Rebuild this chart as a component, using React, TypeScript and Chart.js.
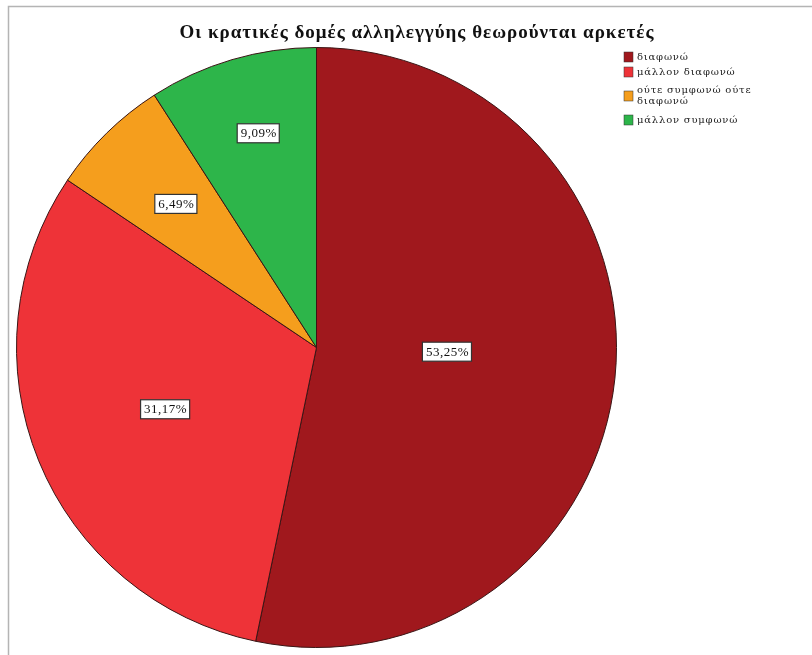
import React, { useEffect, useRef } from "react";
import { Chart, registerables } from "chart.js";

Chart.register(...registerables);

const title = "Οι κρατικές δομές αλληλεγγύης θεωρούνται αρκετές";
const categories = ["διαφωνώ", "μάλλον διαφωνώ", "ούτε συμφωνώ ούτε διαφωνώ", "μάλλον συμφωνώ"];
const legendLines = [["διαφωνώ"], ["μάλλον διαφωνώ"], ["ούτε συμφωνώ ούτε", "διαφωνώ"], ["μάλλον συμφωνώ"]];
const percentages = [53.25, 31.17, 6.49, 9.09];
const colors = ["#a0181d", "#ee3338", "#f59e1d", "#2db54a"];
const labelRadiusFrac = [0.435, 0.545, 0.67, 0.74];
const labelAngleShift = [-0.07, 0, 0, 0.02];

const fmt = (v: number) => v.toFixed(2).replace(".", ",") + "%";

const decorPlugin = {
  id: "decor",
  beforeDraw(chart: any) {
    const ctx = chart.ctx;
    ctx.save();
    ctx.fillStyle = "#ffffff";
    ctx.fillRect(0, 0, chart.width, chart.height);
    ctx.strokeStyle = "#b4b4b4";
    ctx.lineWidth = 1.5;
    ctx.beginPath();
    ctx.moveTo(8.5, chart.height);
    ctx.lineTo(8.5, 6.5);
    ctx.lineTo(chart.width, 6.5);
    ctx.stroke();
    ctx.restore();
  },
  afterDraw(chart: any) {
    const ctx = chart.ctx;
    ctx.save();
    // title
    ctx.fillStyle = "#111";
    ctx.font = "bold 19px 'Liberation Serif', serif";
    (ctx as any).letterSpacing = "1px";
    ctx.textAlign = "center";
    ctx.textBaseline = "middle";
    ctx.fillText(title, 417, 33);
    // legend
    const rowY = [57, 72, 96, 120];
    ctx.font = "10px 'DejaVu Serif', serif";
    (ctx as any).letterSpacing = "0.8px";
    ctx.textAlign = "left";
    legendLines.forEach((lines, i) => {
      const y = rowY[i];
      ctx.fillStyle = colors[i];
      ctx.fillRect(624, y - 5, 9, 10);
      ctx.strokeStyle = "#333";
      ctx.lineWidth = 0.5;
      ctx.strokeRect(624, y - 5, 9, 10);
      ctx.fillStyle = "#222";
      if (lines.length === 1) {
        ctx.fillText(lines[0], 637, y);
      } else {
        ctx.fillText(lines[0], 637, y - 5.5);
        ctx.fillText(lines[1], 637, y + 5.5);
      }
    });
    // slice labels
    const meta = chart.getDatasetMeta(0);
    ctx.font = "13px 'Liberation Serif', serif";
    (ctx as any).letterSpacing = "0.5px";
    ctx.textAlign = "center";
    meta.data.forEach((arc: any, i: number) => {
      const p = arc.getProps(["x", "y", "startAngle", "endAngle", "outerRadius"], true);
      const mid = (p.startAngle + p.endAngle) / 2 + labelAngleShift[i];
      const r = p.outerRadius * labelRadiusFrac[i];
      const x = p.x + Math.cos(mid) * r;
      const y = p.y + Math.sin(mid) * r;
      const text = fmt(percentages[i]);
      const w = ctx.measureText(text).width + 6;
      const h = 19;
      ctx.fillStyle = "#ffffff";
      ctx.fillRect(x - w / 2, y - h / 2, w, h);
      ctx.strokeStyle = "#333";
      ctx.lineWidth = 1.2;
      ctx.strokeRect(x - w / 2, y - h / 2, w, h);
      ctx.fillStyle = "#111";
      ctx.fillText(text, x + 0.5, y + 0.5);
    });
    ctx.restore();
  },
};

export default function App() {
  const ref = useRef<HTMLCanvasElement | null>(null);
  useEffect(() => {
    if (!ref.current) return;
    const chart = new Chart(ref.current, {
      type: "pie",
      data: {
        labels: categories,
        datasets: [
          {
            data: percentages,
            backgroundColor: colors,
            borderColor: "#3a1515",
            borderWidth: 1,
          },
        ],
      },
      options: {
        responsive: false,
        animation: false,
        layout: { padding: { left: 16, right: 195, top: 47, bottom: 7 } },
        plugins: {
          legend: { display: false },
          title: { display: false },
          tooltip: { enabled: false },
        },
      },
      plugins: [decorPlugin],
    });
    return () => chart.destroy();
  }, []);
  return (
    <div style={{ position: "absolute", left: 0, top: 0, width: 812, height: 655 }}>
      <canvas ref={ref} width={812} height={655} style={{ width: 812, height: 655, display: "block" }} />
    </div>
  );
}
